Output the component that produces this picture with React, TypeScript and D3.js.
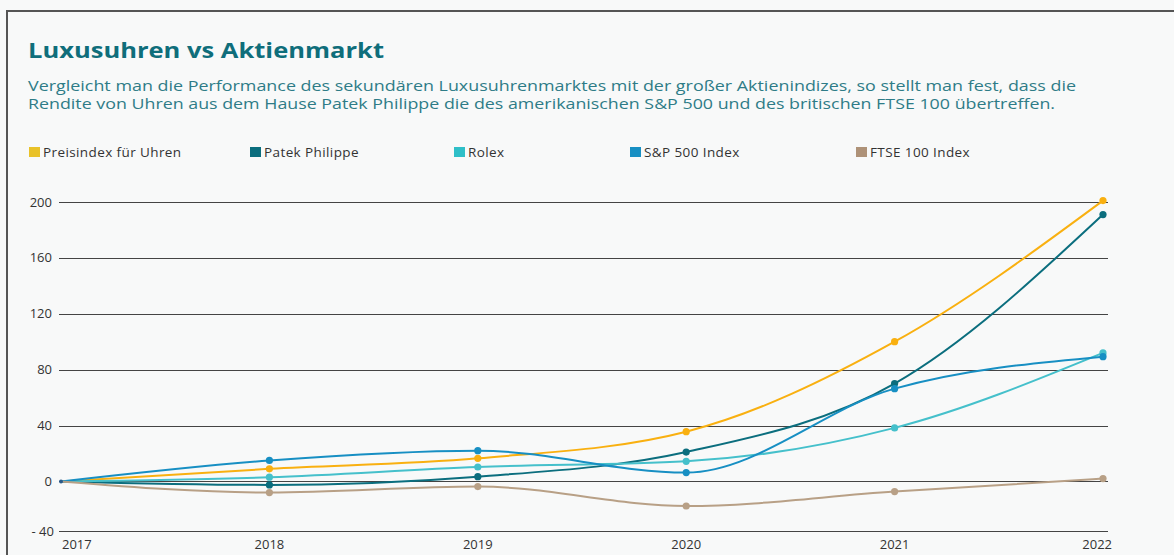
import { useEffect, useRef } from 'react';
import * as d3 from 'd3';

// chart data
const years = [2017, 2018, 2019, 2020, 2021, 2022];
const preisindex = [0, 9, 16.5, 35.6, 100, 201];
const patek = [0, -2.5, 3.4, 21, 70, 191];
const rolex = [0, 3, 10.3, 14.4, 38.3, 92];
const sp500 = [0, 15, 22, 6.3, 66.4, 89.3];
const ftse = [0, -8, -3.7, -17.6, -7.3, 2];

const seriesNames = ['Preisindex für Uhren', 'Patek Philippe', 'Rolex', 'S&P 500 Index', 'FTSE 100 Index'];
const seriesValues = [preisindex, patek, rolex, sp500, ftse];
const lineColors = ['#f9b010', '#0b6e7e', '#45c0cb', '#178fc3', '#b8a086'];
const legendColors = ['#e9c229', '#0b6e7e', '#2fbfc8', '#178fc3', '#ae9278'];
const legendX = [29, 250, 454, 630, 856];

const yTicks = [200, 160, 120, 80, 40, 0];
const yFloorLabel = '- 40';

const TITLE = 'Luxusuhren vs Aktienmarkt';
const SUB1 = 'Vergleicht man die Performance des sekundären Luxusuhrenmarktes mit der großer Aktienindizes,  so stellt man fest, dass die';
const SUB2 = 'Rendite von Uhren aus dem Hause Patek Philippe die des amerikanischen S&P 500 und des britischen FTSE 100 übertreffen.';

const FONT = "'Open Sans', 'Noto Sans', sans-serif";

const App = () => {
  const svgRef = useRef<SVGSVGElement | null>(null);

  useEffect(() => {
    const svg = d3.select(svgRef.current);
    svg.selectAll('*').remove();

    // background + card border (right/bottom edges fall outside the frame)
    svg.append('rect').attr('width', 1174).attr('height', 555).attr('fill', '#f8f9f9');
    svg.append('rect')
      .attr('x', 7).attr('y', 11).attr('width', 1200).attr('height', 600)
      .attr('fill', '#f8f9f9').attr('stroke', '#555').attr('stroke-width', 2);

    // header
    svg.append('text')
      .attr('x', 28).attr('y', 58)
      .attr('font-family', FONT).attr('font-size', 22).attr('font-weight', 700)
      .attr('fill', '#0f6e7b')
      .attr('textLength', 356).attr('lengthAdjust', 'spacingAndGlyphs')
      .text(TITLE);
    [SUB1, SUB2].forEach((s, i) => {
      svg.append('text')
        .attr('x', 28).attr('y', 91 + i * 18)
        .attr('font-family', FONT).attr('font-size', 14.5)
        .attr('fill', '#2e7c87')
        .attr('textLength', i === 0 ? 1048 : 1027).attr('lengthAdjust', 'spacingAndGlyphs')
        .text(s);
    });

    // legend
    const legend = svg.append('g');
    seriesNames.forEach((name, i) => {
      legend.append('rect')
        .attr('x', legendX[i]).attr('y', 147).attr('width', 11).attr('height', 10)
        .attr('fill', legendColors[i]);
      legend.append('text')
        .attr('x', legendX[i] + 14).attr('y', 157)
        .attr('font-family', FONT).attr('font-size', 13.5)
        .attr('letter-spacing', 0.4)
        .attr('fill', '#333')
        .text(name);
    });

    // scales
    const x = d3.scaleLinear().domain([2017, 2022]).range([61, 1103]);
    const y = d3.scaleLinear().domain([-35.5, 200]).range([531, 202]);
    const gridX0 = 59;
    const gridX1 = 1108;

    // gridlines + y labels
    const grid = svg.append('g');
    yTicks.forEach(t => {
      grid.append('line')
        .attr('x1', gridX0).attr('x2', gridX1)
        .attr('y1', Math.round(y(t)) + 0.5).attr('y2', Math.round(y(t)) + 0.5)
        .attr('stroke', '#444').attr('stroke-width', 1);
      grid.append('text')
        .attr('x', 52).attr('y', y(t)).attr('dy', '0.35em')
        .attr('text-anchor', 'end')
        .attr('font-family', FONT).attr('font-size', 13).attr('fill', '#333')
        .text(t);
    });
    const yb = y.range()[0];
    grid.append('line')
      .attr('x1', gridX0).attr('x2', gridX1)
      .attr('y1', yb + 0.5).attr('y2', yb + 0.5)
      .attr('stroke', '#444').attr('stroke-width', 1);
    grid.append('text')
      .attr('x', 54).attr('y', yb).attr('dy', '0.35em')
      .attr('text-anchor', 'end')
      .attr('font-family', FONT).attr('font-size', 13).attr('fill', '#333')
      .text(yFloorLabel);

    // x labels
    years.forEach((yr, i) => {
      const anchor = i === 0 ? 'start' : i === years.length - 1 ? 'end' : 'middle';
      const dx = i === 0 ? 1 : i === years.length - 1 ? 9 : 0;
      svg.append('text')
        .attr('x', x(yr) + dx).attr('y', 549)
        .attr('text-anchor', anchor)
        .attr('font-family', FONT).attr('font-size', 13).attr('fill', '#333')
        .text(yr);
    });

    // lines + dots
    const line = d3.line<number>()
      .x((_, i) => x(years[i]))
      .y(d => y(d))
      .curve(d3.curveMonotoneX);

    seriesValues.forEach((vals, si) => {
      const g = svg.append('g');
      g.append('path')
        .attr('d', line(vals))
        .attr('fill', 'none')
        .attr('stroke', lineColors[si])
        .attr('stroke-width', 2);
      g.selectAll('circle')
        .data(vals.slice(1))
        .enter()
        .append('circle')
        .attr('cx', (_, i) => x(years[i + 1]))
        .attr('cy', d => y(d))
        .attr('r', 3.6)
        .attr('fill', lineColors[si]);
    });
    svg.append('circle')
      .attr('cx', x(years[0])).attr('cy', y(0)).attr('r', 2)
      .attr('fill', '#2a5a8a');
  }, []);

  return (
    <svg
      ref={svgRef}
      width={1174}
      height={555}
      style={{ position: 'absolute', left: 0, top: 0, display: 'block' }}
    />
  );
};

export default App;
